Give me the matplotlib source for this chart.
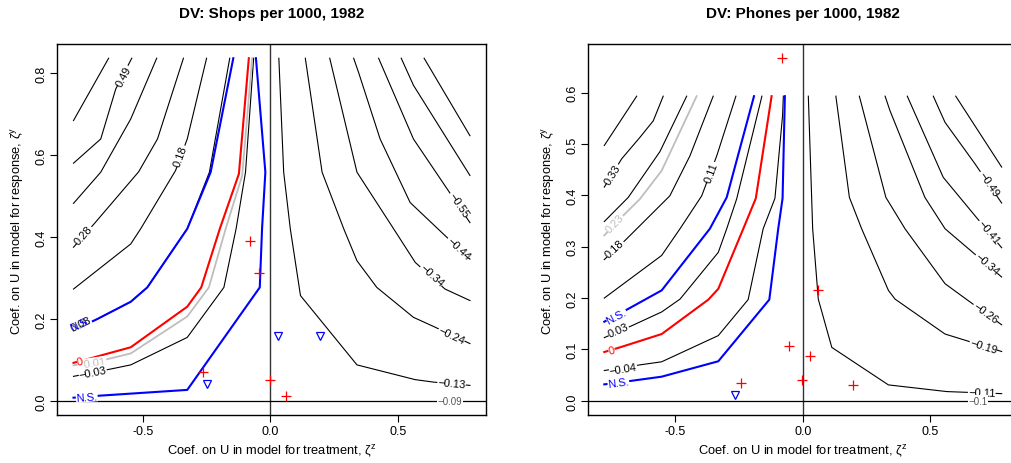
import numpy as np
import matplotlib
matplotlib.use('Agg')
import matplotlib.pyplot as plt

plt.rcParams['font.family'] = ['Liberation Sans', 'DejaVu Sans']
plt.rcParams['axes.unicode_minus'] = False
plt.rcParams['mathtext.fontset'] = 'custom'
plt.rcParams['mathtext.rm'] = 'Liberation Sans'
plt.rcParams['mathtext.it'] = 'Liberation Sans'

# ---------------- data: Shops per 1000 ----------------
shops_levels = ['', '0.49', '', '0.28', '0.18', '0.08', 'N.S.', '0', '-0.01', '-0.03', 'N.S.',
                '-0.13', '-0.24', '-0.34', '-0.44', '-0.55', '', '']
shops_x = [
    [-0.774, -0.636],
    [-0.774, -0.667, -0.608, -0.545],
    [-0.774, -0.667, -0.549, -0.447],
    [-0.774, -0.693, -0.518, -0.444, -0.342],
    [-0.774, -0.549, -0.510, -0.373, -0.327, -0.251],
    [-0.774, -0.680, -0.549, -0.484, -0.327, -0.240, -0.160],
    [-0.774, -0.680, -0.549, -0.484, -0.327, -0.235, -0.146],
    [-0.774, -0.719, -0.549, -0.327, -0.272, -0.199, -0.124, -0.085],
    [-0.774, -0.693, -0.549, -0.327, -0.242, -0.176, -0.111, -0.072],
    [-0.774, -0.627, -0.549, -0.327, -0.183, -0.135, -0.098, -0.066],
    [-0.774, -0.669, -0.327, -0.042, -0.033, -0.020, -0.057],
    [0.033, 0.052, 0.078, 0.118, 0.340, 0.569, 0.641, 0.784],
    [0.137, 0.203, 0.288, 0.340, 0.418, 0.562, 0.647, 0.784],
    [0.233, 0.340, 0.484, 0.569, 0.686, 0.784],
    [0.327, 0.346, 0.431, 0.549, 0.680, 0.784],
    [0.425, 0.562, 0.686, 0.784],
    [0.514, 0.562, 0.784],
    [0.604, 0.784],
]
shops_y = [
    [0.684, 0.836],
    [0.580, 0.639, 0.761, 0.836],
    [0.482, 0.558, 0.688, 0.836],
    [0.375, 0.432, 0.559, 0.639, 0.836],
    [0.273, 0.383, 0.420, 0.562, 0.639, 0.836],
    [0.172, 0.200, 0.242, 0.277, 0.420, 0.558, 0.836],
    [0.172, 0.200, 0.242, 0.277, 0.420, 0.558, 0.836],
    [0.093, 0.102, 0.131, 0.230, 0.277, 0.420, 0.554, 0.836],
    [0.087, 0.094, 0.116, 0.206, 0.277, 0.420, 0.550, 0.836],
    [0.060, 0.078, 0.088, 0.155, 0.277, 0.420, 0.558, 0.836],
    [0.008, 0.013, 0.027, 0.277, 0.420, 0.558, 0.836],
    [0.836, 0.558, 0.420, 0.257, 0.088, 0.052, 0.046, 0.038],
    [0.836, 0.558, 0.420, 0.342, 0.277, 0.204, 0.180, 0.140],
    [0.836, 0.558, 0.420, 0.338, 0.273, 0.245],
    [0.836, 0.802, 0.639, 0.484, 0.407, 0.346],
    [0.836, 0.639, 0.525, 0.435],
    [0.836, 0.770, 0.550],
    [0.836, 0.647],
]
shops_plus_x = [-0.081, -0.046, -0.264, 0.000, 0.063]
shops_plus_y = [0.390, 0.311, 0.070, 0.052, 0.013]
shops_tri_x = [-0.248, 0.029, 0.196]
shops_tri_y = [0.041, 0.159, 0.159]
shops_zero_label = '-0.09'

# ---------------- data: Phones per 1000 ----------------
phones_levels = ['', '0.33', '', '0.23', '0.18', '0.11', 'N.S.', '0.03', '0', '-0.04', 'N.S.',
                 '-0.11', '-0.19', '-0.26', '-0.34', '-0.41', '-0.49', '']
phones_x = [
    [-0.779, -0.652],
    [-0.779, -0.711, -0.639, -0.587, -0.548],
    [-0.779, -0.685, -0.561, -0.456],
    [-0.779, -0.698, -0.639, -0.554, -0.417],
    [-0.779, -0.698, -0.522, -0.443, -0.352],
    [-0.779, -0.554, -0.482, -0.397, -0.338, -0.263],
    [-0.779, -0.685, -0.554, -0.365, -0.299, -0.192],
    [-0.779, -0.672, -0.554, -0.482, -0.332, -0.299, -0.260, -0.161],
    [-0.779, -0.718, -0.554, -0.371, -0.332, -0.234, -0.185, -0.123],
    [-0.779, -0.639, -0.554, -0.332, -0.215, -0.156, -0.110, -0.080, -0.077],
    [-0.779, -0.672, -0.554, -0.332, -0.132, -0.097, -0.080, -0.071],
    [0.021, 0.038, 0.060, 0.113, 0.335, 0.564, 0.779],
    [0.129, 0.182, 0.230, 0.335, 0.361, 0.557, 0.779],
    [0.221, 0.325, 0.400, 0.557, 0.648, 0.779],
    [0.322, 0.341, 0.478, 0.557, 0.668, 0.779],
    [0.409, 0.550, 0.675, 0.779],
    [0.511, 0.557, 0.675, 0.779],
    [0.599, 0.779],
]
phones_y = [
    [0.497, 0.593],
    [0.416, 0.471, 0.513, 0.545, 0.593],
    [0.349, 0.396, 0.485, 0.593],
    [0.322, 0.364, 0.393, 0.448, 0.593],
    [0.275, 0.312, 0.399, 0.477, 0.593],
    [0.200, 0.283, 0.335, 0.399, 0.477, 0.593],
    [0.154, 0.179, 0.215, 0.335, 0.396, 0.593],
    [0.123, 0.146, 0.173, 0.198, 0.289, 0.335, 0.393, 0.593],
    [0.095, 0.104, 0.130, 0.197, 0.218, 0.335, 0.394, 0.593],
    [0.059, 0.070, 0.076, 0.127, 0.197, 0.335, 0.394, 0.555, 0.593],
    [0.032, 0.039, 0.047, 0.077, 0.197, 0.335, 0.394, 0.593],
    [0.593, 0.335, 0.198, 0.104, 0.031, 0.018, 0.014],
    [0.593, 0.396, 0.335, 0.215, 0.198, 0.130, 0.096],
    [0.593, 0.396, 0.335, 0.228, 0.195, 0.148],
    [0.593, 0.565, 0.396, 0.335, 0.288, 0.241],
    [0.593, 0.435, 0.360, 0.298],
    [0.593, 0.542, 0.461, 0.385],
    [0.593, 0.455],
]
phones_plus_x = [-0.084, -0.054, 0.027, -0.003, -0.244, 0.060, 0.195]
phones_plus_y = [0.667, 0.106, 0.087, 0.041, 0.034, 0.216, 0.031]
phones_tri_x = [-0.267]
phones_tri_y = [0.012]
phones_zero_label = '-0.1'

# ---------------- styling ----------------
BLUE, RED, GREY = '#0000FF', '#FF0000', '#BEBEBE'
shops_colors = ['k'] * 18
shops_colors[6] = BLUE
shops_colors[10] = BLUE
shops_colors[7] = RED
shops_colors[8] = GREY
phones_colors = ['k'] * 18
phones_colors[6] = BLUE
phones_colors[10] = BLUE
phones_colors[8] = RED
phones_colors[3] = GREY

# label anchor points, drawn in this order
shops_label_pos = [(1, -0.576, 0.793), (3, -0.733, 0.405), (4, -0.353, 0.598),
                   (5, -0.745, 0.188), (6, -0.745, 0.188), (8, -0.700, 0.093),
                   (7, -0.748, 0.097), (9, -0.699, 0.071), (10, -0.722, 0.010),
                   (11, 0.712, 0.043), (12, 0.712, 0.161), (13, 0.634, 0.306),
                   (14, 0.738, 0.373), (15, 0.738, 0.478)]
phones_label_pos = [(1, -0.744, 0.441), (3, -0.737, 0.345), (4, -0.737, 0.296),
                    (5, -0.358, 0.445), (6, -0.731, 0.165), (7, -0.724, 0.137),
                    (8, -0.750, 0.098), (9, -0.705, 0.062), (10, -0.724, 0.036),
                    (11, 0.701, 0.016), (12, 0.707, 0.107), (13, 0.714, 0.171),
                    (14, 0.720, 0.266), (15, 0.727, 0.329), (16, 0.727, 0.423)]
no_box = {('shops', 6)}


def put_label(ax, xs, ys, lx, ly, text, color, box=True):
    pts = ax.transData.transform(np.column_stack([xs, ys]))
    p = ax.transData.transform((lx, ly))
    best = None
    for i in range(len(pts) - 1):
        a, b = pts[i], pts[i + 1]
        ab = b - a
        t = np.clip(np.dot(p - a, ab) / np.dot(ab, ab), 0, 1)
        d = np.linalg.norm(a + t * ab - p)
        if best is None or d < best[0]:
            best = (d, ab)
    ang = np.degrees(np.arctan2(best[1][1], best[1][0]))
    if ang > 90:
        ang -= 180
    if ang < -90:
        ang += 180
    txt = text.replace('-', '\u2212')
    kw = dict(facecolor='white', edgecolor='none', pad=0.15) if box else None
    ax.text(lx, ly, txt, rotation=ang, rotation_mode='anchor', ha='center', va='center',
            fontsize=8, color=color, bbox=kw, zorder=5)


def panel(name, rect, xlim, ylim, yticks, title, xs_list, ys_list, levels, colors, label_pos,
          plus_x, plus_y, tri_x, tri_y, zero_label, zero_x):
    ax = fig.add_axes(rect)
    ax.set_xlim(*xlim)
    ax.set_ylim(*ylim)
    ax.axvline(0, color='#333333', lw=1.0, zorder=1)
    ax.axhline(0, color='black', lw=0.9, zorder=1)
    for xs, ys, c in zip(xs_list, ys_list, colors):
        lw = 0.8 if c == 'k' else (1.3 if c == GREY else 1.5)
        ax.plot(xs, ys, color=c, lw=lw, zorder=3 if c != 'k' else 2)
    for i, lx, ly in label_pos:
        put_label(ax, xs_list[i], ys_list[i], lx, ly, levels[i], colors[i],
                  box=(name, i) not in no_box)
    ax.text(zero_x, 0, zero_label.replace('-', '\u2212'), ha='center', va='center',
            fontsize=7, color='#555555',
            bbox=dict(facecolor='white', edgecolor='none', pad=0.3), zorder=5)
    ax.plot(plus_x, plus_y, '+', color=RED, ms=7, mew=0.9, zorder=6)
    ax.plot(tri_x, tri_y, 'v', mfc='none', mec=BLUE, ms=5.5, mew=0.9, zorder=6)

    ax.set_xticks([-0.5, 0.0, 0.5])
    ax.set_xticklabels(['-0.5', '0.0', '0.5'])
    ax.set_yticks(yticks)
    ax.set_yticklabels(['%.1f' % v for v in yticks], rotation=90, va='center')
    ax.tick_params(direction='out', length=5, width=0.8, labelsize=9, pad=2.5)
    for s in ax.spines.values():
        s.set_linewidth(1.0)
    ax.set_xlabel('Coef. on U in model for treatment, \u03b6$^{z}$', fontsize=9.3)
    ax.set_ylabel('Coef. on U in model for response, \u03b6$^{y}$', fontsize=9.3)
    ax.xaxis.set_label_coords(0.5, -0.098)
    ax.xaxis.label.set_va('center')
    ax.yaxis.set_label_coords(-0.093, 0.5)
    ax.yaxis.label.set_va('center')
    ax.set_title(title, fontsize=11, fontweight='bold', pad=20)
    return ax


fig = plt.figure(figsize=(10.12, 4.64), dpi=100)

panel('shops', [0.0568, 0.1041, 0.4234, 0.7983], (-0.837, 0.847), (-0.0335, 0.870),
      [0.0, 0.2, 0.4, 0.6, 0.8], 'DV: Shops per 1000, 1982',
      shops_x, shops_y, shops_levels, shops_colors, shops_label_pos,
      shops_plus_x, shops_plus_y, shops_tri_x, shops_tri_y, shops_zero_label, 0.706)

panel('phones', [0.5815, 0.1041, 0.4239, 0.7983], (-0.841, 0.841), (-0.027, 0.694),
      [0.0, 0.1, 0.2, 0.3, 0.4, 0.5, 0.6], 'DV: Phones per 1000, 1982',
      phones_x, phones_y, phones_levels, phones_colors, phones_label_pos,
      phones_plus_x, phones_plus_y, phones_tri_x, phones_tri_y, phones_zero_label, 0.688)

fig.savefig('out.png', dpi=100)
